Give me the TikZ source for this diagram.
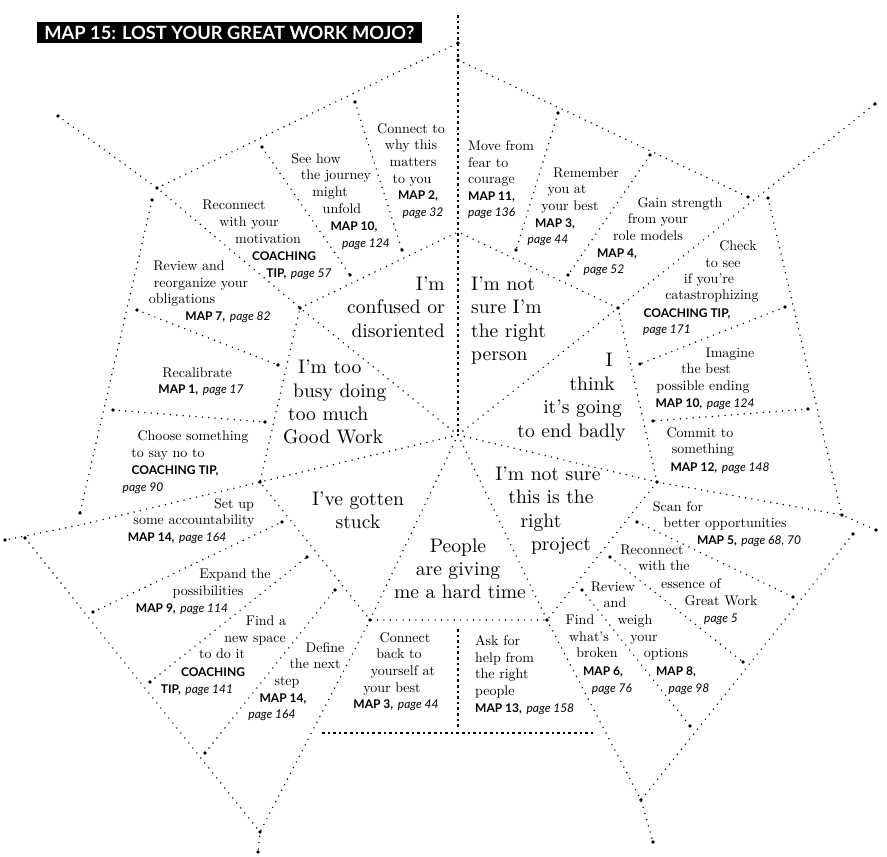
\documentclass[tikz,border=0pt]{standalone}
\usepackage{fontspec}
\setmainfont{lmroman10-regular.otf}[BoldFont=lmroman10-bold.otf, ItalicFont=lmroman10-italic.otf]
\newfontfamily\lato{Lato}
\newcount\tcnt
\newcommand\Mb[1]{{\fontsize{12}{14}\selectfont\lato\bfseries #1}}
\newcommand\Pg[1]{{\fontsize{12}{14}\selectfont\lato\itshape #1}}
% small serif line: \sline[anchor]{(x,y)}{text}
\newcommand\sline[3][base]{\global\advance\tcnt by 1\relax\node[sm,anchor=#1] (t\the\tcnt) at #2 {#3};}
\newcommand\bline[3][base]{\global\advance\tcnt by 1\relax\node[bg,anchor=#1] (t\the\tcnt) at #2 {#3};}
\begin{document}
\begin{tikzpicture}[x=1pt,y=-1pt,
  web/.style={line width=1.6pt, dash pattern=on 0pt off 6.4pt, line cap=round},
  heavy/.style={line width=2.7pt, dash pattern=on 2.5pt off 3.1pt, line cap=butt},
  sm/.style={font=\fontsize{14}{16}\selectfont, inner sep=0pt},
  bg/.style={font=\fontsize{19.6}{23}\selectfont, inner sep=0pt},
  titlebox/.style={fill=black, text=white, minimum width=385pt, minimum height=21pt, inner sep=0pt,
    font=\fontsize{18.3}{19}\selectfont\lato\bfseries}
]
\fill[white] (0,0) rectangle (887,857);
\useasboundingbox (0,0) rectangle (887,857);

% ---------- coordinates ----------
\coordinate (C) at (458,435);
\coordinate (T) at (458,15);
\coordinate (IUL) at (300,308);
\coordinate (OUL) at (157,188);
\coordinate (EUL) at (58,116);
\coordinate (ITOP) at (458,232);
\coordinate (IUR) at (618,308);
\coordinate (OUR) at (750,203);
\coordinate (EUR) at (875,104);
\coordinate (IR) at (657,482);
\coordinate (OR) at (842,515);
\coordinate (ER) at (876,530);
\coordinate (ILR) at (547,620);
\coordinate (OLR) at (641,800);
\coordinate (ELR) at (653,842);
\coordinate (ILL) at (370,620);
\coordinate (OLL) at (260,832);
\coordinate (ELL) at (258,852);
\coordinate (IL) at (260,482);
\coordinate (OL) at (80,525);
\coordinate (EL) at (5,540);
% outer ring ends
\coordinate (RulA) at (157,188); \coordinate (RulB) at (458,43);
\coordinate (RurA) at (458,60);  \coordinate (RurB) at (748,197);
\coordinate (RrA) at (768,198);  \coordinate (RrB) at (842,515);
\coordinate (RlrA) at (853,534);
\coordinate (RllA) at (25,538);
\coordinate (RlA) at (152,200);  \coordinate (RlB) at (80,513);
\coordinate (BxA) at (322,733);  \coordinate (BxB) at (596,733);
\coordinate (BvA) at (458,629);  \coordinate (BvB) at (458,727);
% separators
\coordinate (s1a) at (262,147); \coordinate (s1b) at (350,275);
\coordinate (s2a) at (355,102); \coordinate (s2b) at (402,250);
\coordinate (s3a) at (558,113); \coordinate (s3b) at (516,250);
\coordinate (s4a) at (650,155); \coordinate (s4b) at (568,275);
\coordinate (s5a) at (785,307); \coordinate (s5b) at (640,364);
\coordinate (s6a) at (808,409); \coordinate (s6b) at (653,421);
\coordinate (s7a) at (637,522); \coordinate (s7b) at (793,597);
\coordinate (s8a) at (610,557); \coordinate (s8b) at (743,662);
\coordinate (s9a) at (582,590); \coordinate (s9b) at (690,726);
\coordinate (s10a) at (93,612); \coordinate (s10b) at (282,522);
\coordinate (s11a) at (150,682); \coordinate (s11b) at (307,557);
\coordinate (s12a) at (205,753); \coordinate (s12b) at (335,590);
\coordinate (s13a) at (137,310); \coordinate (s13b) at (278,365);
\coordinate (s14a) at (113,410); \coordinate (s14b) at (265,422);

% ---------- web ----------
\draw[heavy] (T) -- (C);
\draw[web] (C) -- (IUL) -- (OUL) -- (EUL);
\draw[web] (C) -- (IUR) -- (OUR) -- (EUR);
\draw[web] (C) -- (IR) -- (OR) -- (ER);
\draw[web] (C) -- (ILR) -- (OLR) -- (ELR);
\draw[web] (C) -- (ILL) -- (OLL) -- (ELL);
\draw[web] (C) -- (IL) -- (OL) -- (EL);
\draw[web] (IUL) -- (ITOP) -- (IUR) -- (IR) -- (ILR) -- (ILL) -- (IL) -- cycle;
\draw[web] (RulA) -- (RulB);
\draw[web] (RurA) -- (RurB);
\draw[web] (RrA) -- (RrB);
\draw[web] (RlrA) -- (OLR);
\draw[web] (RllA) -- (OLL);
\draw[web] (RlA) -- (RlB);
\draw[heavy] (BxA) -- (BxB);
\draw[heavy] (BvA) -- (BvB);
\foreach \i in {1,...,14} \draw[web] (s\i a) -- (s\i b);
\foreach \p in {IUL,OUL,EUL,IUR,EUR,IR,OR,ER,ILR,OLR,ELR,ILL,OLL,ELL,IL,EL,
  RulB,RurA,RurB,RrA,RlrA,RllA,RlA,RlB}
  \fill (\p) circle (1.8pt);
\foreach \i in {1,...,14} {\fill (s\i a) circle (1.8pt); \fill (s\i b) circle (1.8pt);}

% ---------- title ----------
\node[titlebox] (title) at (229.5,32.5) {MAP 15: LOST YOUR GREAT WORK MOJO?};

% ---------- big statements ----------
\bline[base east]{(445,290)}{I’m}
\bline[base east]{(445,313)}{confused or}
\bline[base east]{(445,337)}{disoriented}
\bline[base west]{(471,290)}{I’m not}
\bline[base west]{(471,313)}{sure I’m}
\bline[base west]{(471,337)}{the right}
\bline[base west]{(471,360)}{person}
\bline[base west]{(298,373)}{I’m too}
\bline[base west]{(293,397)}{busy doing}
\bline[base west]{(288,420)}{too much}
\bline[base west]{(283,443)}{Good Work}
\bline[base east]{(613,366)}{I}
\bline[base east]{(615,390)}{think}
\bline[base east]{(622,413)}{it’s going}
\bline[base east]{(626,437)}{to end badly}
\bline{(548,480)}{I’m not sure}
\bline{(551,503)}{this is the}
\bline{(541,527)}{right}
\bline{(561,550)}{project}
\bline{(358,505)}{I’ve gotten}
\bline{(358,528)}{stuck}
\bline{(458,552)}{People}
\bline{(458,575)}{are giving}
\bline{(460,598)}{me a hard time}

% ---------- small texts ----------
% Connect to why
\sline{(411,133)}{Connect to}
\sline{(411,149)}{why this}
\sline{(413,166)}{matters}
\sline{(412,183)}{to you}
\sline{(418,199)}{\Mb{MAP 2,}}
\sline{(423,216)}{\Pg{page 32}}
% See how
\sline{(316,163)}{See how}
\sline{(336,179)}{the journey}
\sline{(330,196)}{might}
\sline{(342,213)}{unfold}
\sline{(354,230)}{\Mb{MAP 10,}}
\sline{(366,247)}{\Pg{page 124}}
% Reconnect motivation
\sline{(234,209)}{Reconnect}
\sline{(249,226)}{with your}
\sline{(268,243)}{motivation}
\sline{(284,260)}{\Mb{COACHING}}
\sline{(299,277)}{\Mb{TIP,} \Pg{page 57}}
% Review obligations
\sline{(189,270)}{Review and}
\sline{(201,287)}{reorganize your}
\sline{(182,303)}{obligations}
\sline{(228,320)}{\Mb{MAP 7,} \Pg{page 82}}
% Recalibrate
\sline{(197,377)}{Recalibrate}
\sline{(201,393)}{\Mb{MAP 1,} \Pg{page 17}}
% Choose
\sline{(193,440)}{Choose something}
\sline{(168,457)}{to say no to}
\sline{(175,474)}{\Mb{COACHING TIP,}}
\sline{(143,491)}{\Pg{page 90}}
% Set up
\sline{(234,508)}{Set up}
\sline{(194,524)}{some accountability}
\sline{(177,541)}{\Mb{MAP 14,} \Pg{page 164}}
% Expand
\sline{(235,578)}{Expand the}
\sline{(208,595)}{possibilities}
\sline{(182,612)}{\Mb{MAP 9,} \Pg{page 114}}
% Find a new space
\sline{(266,625)}{Find a}
\sline{(255,642)}{new space}
\sline{(222,658)}{to do it}
\sline{(213,676)}{\Mb{COACHING}}
\sline{(197,693)}{\Mb{TIP,} \Pg{page 141}}
% Define
\sline{(325,652)}{Define}
\sline{(315,668)}{the next}
\sline{(287,685)}{step}
\sline{(283,702)}{\Mb{MAP 14,}}
\sline{(272,718)}{\Pg{page 164}}
% Connect back
\sline{(405,642)}{Connect}
\sline{(399,658)}{back to}
\sline{(403,675)}{yourself at}
\sline{(392,692)}{your best}
\sline{(396,708)}{\Mb{MAP 3,} \Pg{page 44}}
% Ask for help
\sline[base west]{(475,645)}{Ask for}
\sline[base west]{(475,662)}{help from}
\sline[base west]{(475,678)}{the right}
\sline[base west]{(475,695)}{people}
\sline[base west]{(475,712)}{\Mb{MAP 13,} \Pg{page 158}}
% Find what's broken
\sline{(580,624)}{Find}
\sline{(589,641)}{what’s}
\sline{(597,657)}{broken}
\sline{(603,675)}{\Mb{MAP 6,}}
\sline{(612,692)}{\Pg{page 76}}
% Review and weigh
\sline{(613,591)}{Review}
\sline{(615,607)}{and}
\sline{(635,624)}{weigh}
\sline{(644,641)}{your}
\sline{(666,657)}{options}
\sline{(676,675)}{\Mb{MAP 8,}}
\sline{(689,692)}{\Pg{page 98}}
% Reconnect essence
\sline{(652,554)}{Reconnect}
\sline{(664,570)}{with the}
\sline{(691,588)}{essence of}
\sline{(721,605)}{Great Work}
\sline{(721,622)}{\Pg{page 5}}
% Scan
\sline{(678,511)}{Scan for}
\sline{(725,527)}{better opportunities}
\sline{(749,544)}{\Mb{MAP 5,} \Pg{page 68, 70}}
% Commit
\sline{(700,437)}{Commit to}
\sline{(703,453)}{something}
\sline{(720,471)}{\Mb{MAP 12,} \Pg{page 148}}
% Imagine
\sline{(730,357)}{Imagine}
\sline{(706,373)}{the best}
\sline{(703,390)}{possible ending}
\sline{(705,407)}{\Mb{MAP 10,} \Pg{page 124}}
% Check
\sline{(738,250)}{Check}
\sline{(723,267)}{to see}
\sline{(709,283)}{if you’re}
\sline{(712,299)}{catastrophizing}
\sline{(687,317)}{\Mb{COACHING TIP,}}
\sline{(667,333)}{\Pg{page 171}}
% Gain strength
\sline{(680,207)}{Gain strength}
\sline{(658,223)}{from your}
\sline{(648,240)}{role models}
\sline{(617,257)}{\Mb{MAP 4,}}
\sline{(604,273)}{\Pg{page 52}}
% Remember
\sline{(586,177)}{Remember}
\sline{(567,193)}{you at}
\sline{(570,210)}{your best}
\sline{(555,227)}{\Mb{MAP 3,}}
\sline{(548,243)}{\Pg{page 44}}
% Move from fear
\sline[base west]{(468,150)}{Move from}
\sline[base west]{(468,167)}{fear to}
\sline[base west]{(468,183)}{courage}
\sline[base west]{(468,200)}{\Mb{MAP 11,}}
\sline[base west]{(468,216)}{\Pg{page 136}}
\end{tikzpicture}
\end{document}
